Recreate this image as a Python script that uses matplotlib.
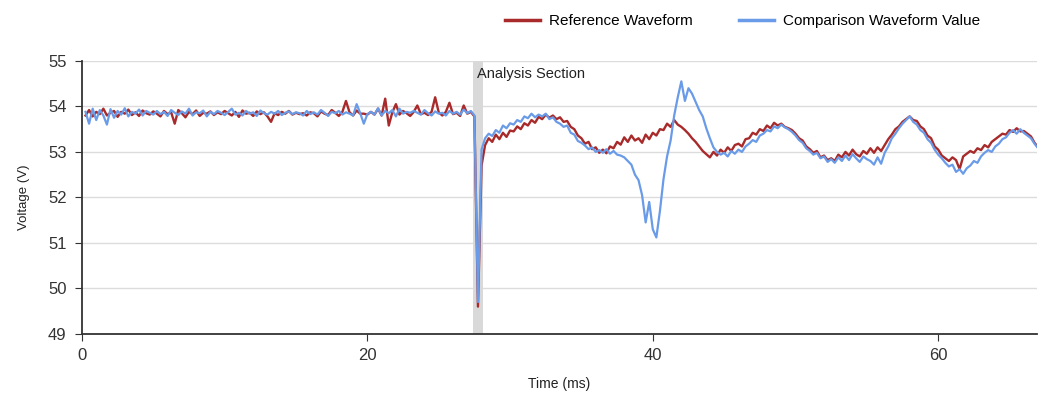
import numpy as np
import matplotlib.pyplot as plt

# time base: one sample every 0.25 ms, 0.25 .. 67.0 ms
time_ms = np.arange(1, 269) * 0.25

reference_v = [
    53.80, 53.92, 53.78, 53.88, 53.83, 53.95, 53.80, 53.86, 53.90, 53.77, 53.88, 53.84, 53.93, 53.81, 53.87, 53.79, 53.91, 53.85, 53.82, 53.89,
    53.84, 53.78, 53.90, 53.83, 53.87, 53.62, 53.92, 53.85, 53.76, 53.88, 53.83, 53.91, 53.79, 53.86, 53.84, 53.89, 53.81, 53.87, 53.83, 53.90,
    53.85, 53.80, 53.88, 53.77, 53.91, 53.84, 53.86, 53.79, 53.89, 53.83, 53.87, 53.78, 53.66, 53.85, 53.81, 53.88, 53.84, 53.90, 53.82, 53.86,
    53.83, 53.85, 53.80, 53.87, 53.85, 53.78, 53.89, 53.84, 53.81, 53.92, 53.86, 53.79, 53.88, 54.12, 53.87, 53.80, 53.91, 53.84, 53.84, 53.82,
    53.88, 53.82, 53.95, 53.80, 54.17, 53.58, 53.87, 54.05, 53.82, 53.90, 53.85, 53.79, 53.88, 54.02, 53.83, 53.86, 53.81, 53.88, 54.20, 53.87,
    53.80, 53.88, 54.08, 53.83, 53.86, 53.79, 54.02, 53.84, 53.88, 53.78, 49.60, 52.70, 53.15, 53.30, 53.22, 53.38, 53.28, 53.42, 53.33, 53.47,
    53.45, 53.56, 53.50, 53.63, 53.58, 53.70, 53.64, 53.77, 53.72, 53.82, 53.75, 53.80, 53.72, 53.76, 53.66, 53.68, 53.55, 53.50, 53.36, 53.30,
    53.18, 53.22, 53.06, 53.10, 52.98, 53.05, 52.97, 53.12, 53.08, 53.22, 53.16, 53.32, 53.22, 53.36, 53.25, 53.30, 53.20, 53.38, 53.28, 53.42,
    53.36, 53.50, 53.48, 53.62, 53.55, 53.70, 53.60, 53.55, 53.48, 53.40, 53.30, 53.22, 53.12, 53.02, 52.95, 52.88, 53.00, 52.92, 53.05, 52.98,
    53.10, 53.02, 53.15, 53.18, 53.12, 53.28, 53.30, 53.42, 53.38, 53.50, 53.46, 53.58, 53.52, 53.64, 53.58, 53.62, 53.55, 53.52, 53.48, 53.40,
    53.30, 53.25, 53.12, 53.06, 52.98, 53.02, 52.88, 52.92, 52.82, 52.86, 52.80, 52.94, 52.88, 53.00, 52.92, 53.05, 52.95, 52.90, 53.02, 52.96,
    53.08, 52.98, 53.10, 53.02, 53.15, 53.28, 53.38, 53.50, 53.56, 53.66, 53.72, 53.78, 53.70, 53.68, 53.56, 53.50, 53.36, 53.30, 53.12, 53.05,
    52.92, 52.86, 52.80, 52.88, 52.82, 52.62, 52.90, 52.96, 53.02, 52.98, 53.08, 53.04, 53.15, 53.10, 53.22, 53.28, 53.34, 53.40, 53.38, 53.48,
    53.44, 53.52, 53.45, 53.46, 53.40, 53.34, 53.20, 53.10,
]

comparison_v = [
    53.88, 53.62, 53.95, 53.70, 53.92, 53.80, 53.60, 53.94, 53.75, 53.90, 53.82, 53.96, 53.78, 53.88, 53.84, 53.93, 53.80, 53.90, 53.86, 53.82,
    53.90, 53.83, 53.88, 53.79, 53.92, 53.86, 53.81, 53.89, 53.84, 53.95, 53.80, 53.87, 53.85, 53.91, 53.78, 53.88, 53.83, 53.90, 53.86, 53.81,
    53.88, 53.95, 53.82, 53.86, 53.80, 53.90, 53.84, 53.87, 53.79, 53.91, 53.85, 53.82, 53.88, 53.84, 53.90, 53.81, 53.86, 53.89, 53.83, 53.87,
    53.85, 53.80, 53.90, 53.83, 53.87, 53.82, 53.92, 53.86, 53.79, 53.88, 53.85, 53.90, 53.82, 53.87, 53.84, 53.80, 54.05, 53.85, 53.62, 53.83,
    53.88, 53.82, 53.96, 53.80, 53.90, 53.85, 53.92, 53.78, 53.95, 53.84, 53.88, 53.86, 53.90, 53.86, 53.82, 53.92, 53.85, 53.80, 53.89, 53.84,
    53.86, 53.80, 53.90, 53.84, 53.88, 53.82, 53.93, 53.85, 53.90, 53.80, 49.70, 53.05, 53.30, 53.40, 53.35, 53.48, 53.42, 53.58, 53.52, 53.63,
    53.60, 53.70, 53.66, 53.78, 53.74, 53.84, 53.76, 53.82, 53.78, 53.84, 53.72, 53.76, 53.66, 53.62, 53.55, 53.58, 53.42, 53.38, 53.24, 53.20,
    53.14, 53.06, 53.10, 53.00, 53.04, 52.98, 53.06, 52.96, 53.02, 52.94, 52.92, 52.88, 52.80, 52.72, 52.50, 52.38, 52.05, 51.45, 51.90, 51.30,
    51.12, 51.70, 52.40, 52.90, 53.25, 53.80, 54.20, 54.55, 54.12, 54.40, 54.28, 54.10, 53.92, 53.78, 53.52, 53.30, 53.10, 53.00, 52.94, 52.98,
    52.90, 53.02, 52.96, 53.05, 53.00, 53.12, 53.18, 53.26, 53.22, 53.36, 53.40, 53.48, 53.45, 53.56, 53.52, 53.60, 53.54, 53.50, 53.44, 53.36,
    53.26, 53.20, 53.08, 53.02, 52.94, 52.98, 52.86, 52.90, 52.78, 52.84, 52.76, 52.88, 52.80, 52.92, 52.82, 52.95, 52.86, 52.78, 52.90, 52.84,
    52.80, 52.72, 52.88, 52.74, 52.98, 53.12, 53.30, 53.40, 53.52, 53.62, 53.70, 53.78, 53.66, 53.60, 53.48, 53.42, 53.28, 53.20, 53.05, 52.94,
    52.86, 52.76, 52.68, 52.72, 52.56, 52.62, 52.52, 52.64, 52.70, 52.80, 52.76, 52.90, 52.98, 53.04, 53.00, 53.12, 53.18, 53.28, 53.32, 53.42,
    53.48, 53.40, 53.50, 53.42, 53.36, 53.30, 53.18, 53.08,
]

section_start, section_end = 27.4, 28.1
x_ticks = [0, 20, 40, 60]
y_ticks = [49, 50, 51, 52, 53, 54, 55]

plt.rcParams['font.family'] = ['Liberation Sans', 'DejaVu Sans']

fig = plt.figure(figsize=(10.4, 3.98), dpi=100)
ax = fig.add_axes([0.0788, 0.161, 0.918, 0.686])

ax.axvspan(section_start, section_end, color='#d9d9d9', zorder=1, lw=0)
ax.text(section_start + 0.3, 54.72, 'Analysis Section', fontsize=10.5, color='#222222',
        va='center', ha='left', zorder=5)

ax.plot(time_ms, reference_v, color='#a82a2a', lw=1.7, label='Reference Waveform', zorder=3)
ax.plot(time_ms, comparison_v, color='#6a9be8', lw=1.6, label='Comparison Waveform Value', zorder=4)

ax.set_xlim(0, 66.9)
ax.set_ylim(49, 55)
ax.set_xticks(x_ticks)
ax.set_yticks(y_ticks)
ax.tick_params(axis='both', labelsize=12, colors='#333333', length=5, direction='out')
ax.tick_params(axis='y', pad=6)
ax.tick_params(axis='x', pad=5)
ax.grid(axis='y', color='#dcdcdc', lw=1)
ax.set_axisbelow(True)

for side in ['top', 'right']:
    ax.spines[side].set_visible(False)
for side in ['left', 'bottom']:
    ax.spines[side].set_color('#333333')
    ax.spines[side].set_linewidth(1.3)

ax.set_xlabel('Time (ms)', fontsize=10, color='#222222', labelpad=10)
ax.set_ylabel('Voltage (V)', fontsize=9.5, color='#222222', labelpad=13)

leg = ax.legend(loc='lower right', bbox_to_anchor=(0.955, 1.07), ncol=2, frameon=False,
                fontsize=11, handlelength=2.3, columnspacing=3.0, handletextpad=0.6)
for line in leg.get_lines():
    line.set_linewidth(2.5)

fig.savefig('out.png', dpi=100)
